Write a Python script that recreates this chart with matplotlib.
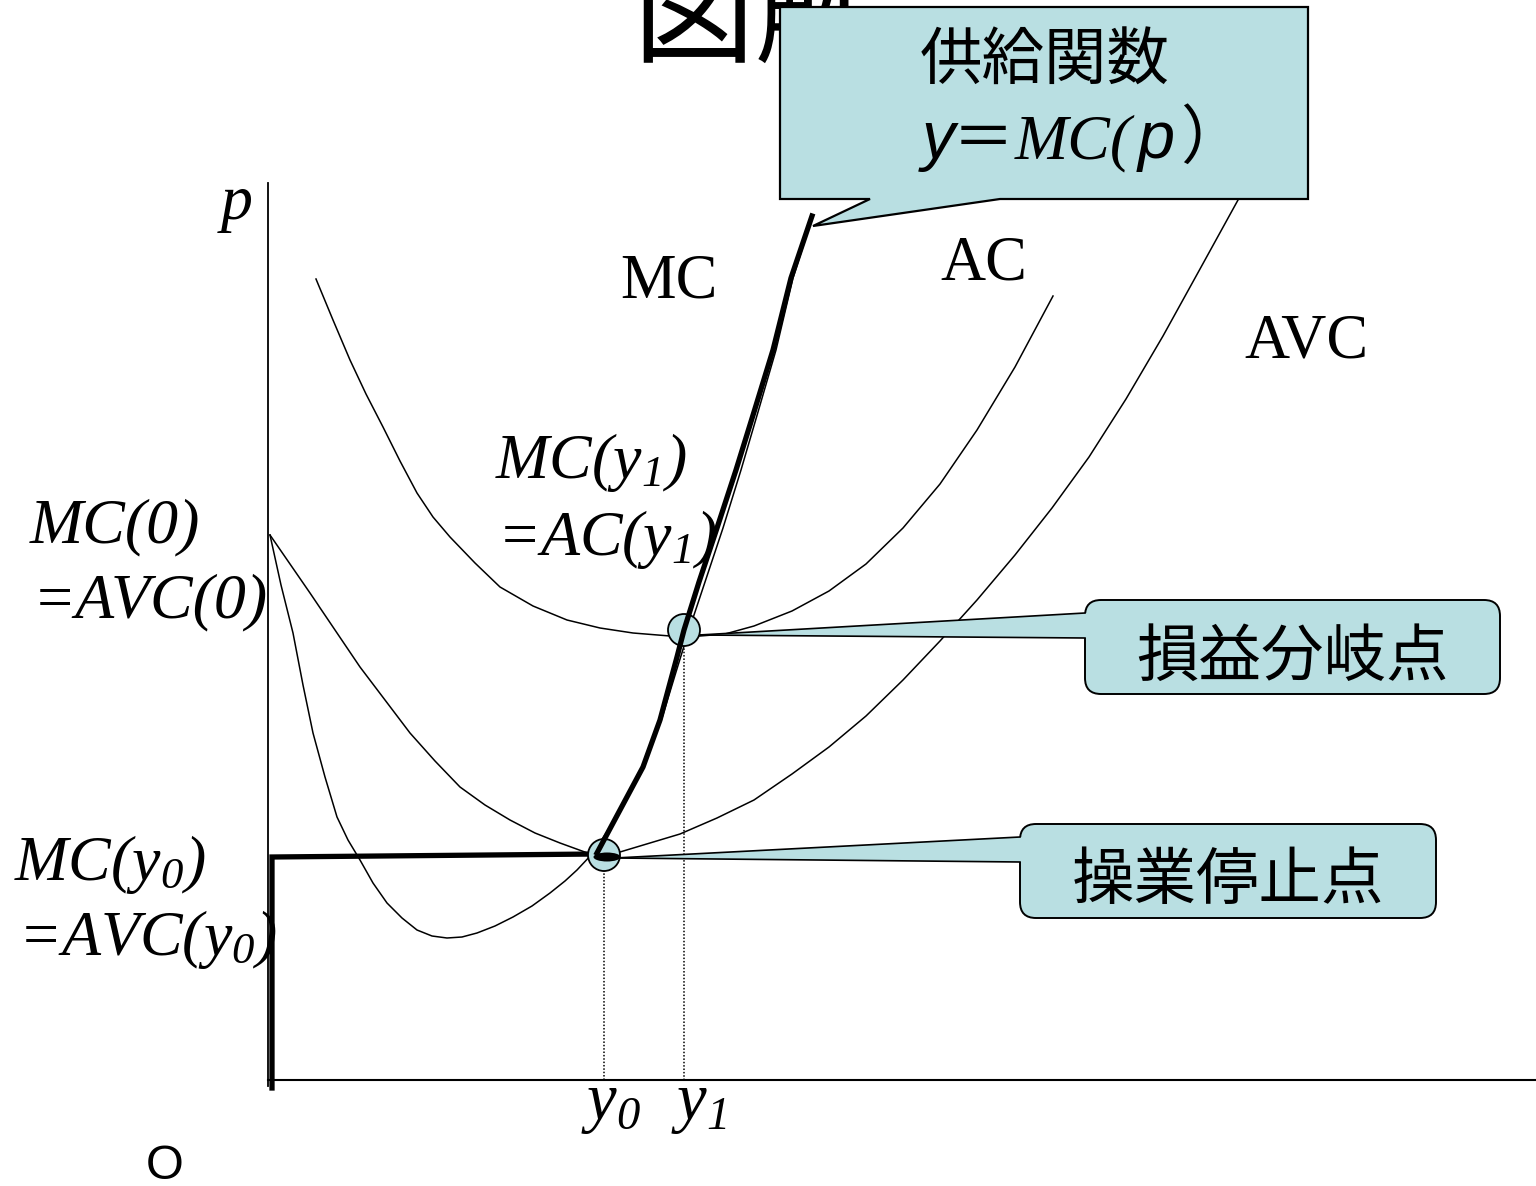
import matplotlib.pyplot as plt
from matplotlib.patches import Polygon, Circle, Ellipse, FancyBboxPatch

plt.rcParams['mathtext.fontset'] = 'custom'
plt.rcParams['mathtext.it'] = 'Liberation Serif:italic'
plt.rcParams['mathtext.rm'] = 'Liberation Serif:italic'

# 曲線の点 (画像のピクセル座標で読み取り, y は下向き)
mc_x = [270, 281, 293, 303, 313, 325, 337, 348, 360, 373, 387, 402, 417, 432, 447,
        462, 477, 495, 513, 532, 550, 565, 577, 593, 620, 643, 662, 676, 689, 705,
        723, 741, 758, 776, 793, 812]
mc_y = [535, 585, 633, 685, 733, 777, 817, 840, 860, 883, 903, 918, 930, 936, 938,
        937, 933, 926, 917, 906, 893, 881, 870, 853, 812, 768, 718, 672, 630, 582,
        528, 470, 412, 350, 278, 218]

ac_x = [316, 333, 350, 366, 383, 400, 417, 433, 450, 475, 500, 533, 567, 600, 633,
        670, 700, 725, 754, 792, 829, 866, 903, 940, 977, 1015, 1053]
ac_y = [279, 320, 360, 394, 427, 461, 493, 517, 537, 563, 587, 606, 620, 628, 633,
        636, 636, 634, 626, 611, 591, 564, 528, 484, 430, 367, 296]

avc_x = [270, 290, 310, 335, 360, 385, 410, 435, 460, 485, 510, 535, 560, 593, 620,
         650, 680, 717, 754, 792, 829, 866, 903, 940, 977, 1015, 1052, 1089, 1126,
         1163, 1200, 1238]
avc_y = [535, 564, 593, 630, 667, 700, 733, 761, 787, 805, 820, 833, 843, 855, 852,
         843, 834, 818, 800, 774, 747, 716, 680, 641, 600, 555, 508, 457, 399, 336,
         269, 200]

# 供給曲線 (太線)
shut_x = [272, 272, 597]
shut_y = [1088, 857, 854]
supply_x = [597, 620, 643, 660, 677, 684, 699, 717, 736, 754, 773, 791, 812]
supply_y = [853, 810, 767, 720, 657, 630, 582, 528, 470, 412, 350, 278, 216]

# 損益分岐点・操業停止点
y0, p0 = 604, 855
y1, p1 = 684, 630
axis_x, axis_y = 268, 1080

fill = '#b9dfe2'
serif = 'Liberation Serif'
jp = ['Noto Sans CJK JP', 'DejaVu Sans']

fig = plt.figure(figsize=(15.36, 11.86), dpi=100)
ax = fig.add_axes([0, 0, 1, 1])
ax.set_xlim(0, 1536)
ax.set_ylim(1186, 0)
ax.axis('off')

# タイトル (吹き出しの後ろに隠れている)
ax.text(632, 18, '図解', fontsize=88, family=jp, ha='left', va='center', zorder=1)

# 軸
ax.plot([axis_x, axis_x], [183, 1086], color='black', lw=1.3, zorder=2)
ax.plot([axis_x, 1536], [axis_y, axis_y], color='black', lw=1.5, zorder=2)

# 曲線
ax.plot(mc_x, mc_y, color='black', lw=1.1, zorder=3)
ax.plot(ac_x, ac_y, color='black', lw=1.1, zorder=3)
ax.plot(avc_x, avc_y, color='black', lw=1.1, zorder=3)

# 点線
ax.plot([y0, y0], [p0 + 15, axis_y], color='black', lw=1.1, ls=(0, (1, 1.2)), zorder=3)
ax.plot([y1, y1], [p1 + 15, axis_y], color='black', lw=1.1, ls=(0, (1, 1.2)), zorder=3)

# 操業停止部分の太線
ax.plot(shut_x, shut_y, color='black', lw=3.8, solid_joinstyle='miter', zorder=4)

# 吹き出し: 損益分岐点
ax.add_patch(FancyBboxPatch((1085, 600), 415, 94, boxstyle='round,pad=0,rounding_size=16',
                            fc=fill, ec='black', lw=1.4, zorder=6))
ax.add_patch(Polygon([(699, 635), (1087, 613), (1087, 638)], closed=True,
                     fc=fill, ec='none', zorder=6))
ax.plot([699, 1085], [635, 613], color='black', lw=1.2, zorder=6)
ax.plot([699, 1085], [635, 638], color='black', lw=1.2, zorder=6)
ax.text(1292, 658, '損益分岐点', fontsize=45, family=jp, ha='center', va='center', zorder=7)

# 吹き出し: 操業停止点
ax.add_patch(FancyBboxPatch((1020, 824), 416, 94, boxstyle='round,pad=0,rounding_size=16',
                            fc=fill, ec='black', lw=1.4, zorder=6))
ax.add_patch(Polygon([(615, 858), (1022, 837), (1022, 862)], closed=True,
                     fc=fill, ec='none', zorder=6))
ax.plot([615, 1020], [858, 837], color='black', lw=1.2, zorder=6)
ax.plot([615, 1020], [858, 862], color='black', lw=1.2, zorder=6)
ax.text(1228, 881, '操業停止点', fontsize=45, family=jp, ha='center', va='center', zorder=7)

# 点の丸
ax.add_patch(Circle((y1, p1), 16, fc=fill, ec='black', lw=1.3, zorder=7))
ax.add_patch(Circle((y0, p0), 16, fc=fill, ec='black', lw=1.3, zorder=7))
ax.add_patch(Ellipse((607, 857), 27, 9, fc='black', ec='none', zorder=8))

# MC 上の供給曲線 (太線)
ax.plot(supply_x, supply_y, color='black', lw=3.8, zorder=8)

# 吹き出し: 供給関数
ax.add_patch(Polygon([(780, 7), (1308, 7), (1308, 199), (1000, 199), (813, 226),
                      (870, 199), (780, 199)], closed=True, fc=fill, ec='black',
                     lw=1.6, joinstyle='miter', zorder=9))
ax.text(1045, 62, '供給関数', fontsize=45, family=jp, ha='center', va='center', zorder=10)
ax.text(922, 158, 'y', fontsize=48, family='Liberation Sans', style='italic',
        ha='left', va='baseline', zorder=10)
ax.text(953, 158, '＝', fontsize=44, family=jp, ha='left', va='baseline', zorder=10)
ax.text(1015, 158, 'MC(', fontsize=46, family=serif, style='italic',
        ha='left', va='baseline', zorder=10)
ax.text(1138, 158, 'p', fontsize=48, family='Liberation Sans', style='italic',
        ha='left', va='baseline', zorder=10)
ax.text(1180, 158, '）', fontsize=46, family=jp, ha='left', va='baseline', zorder=10)

# 曲線名
ax.text(620, 297, 'MC', fontsize=45, family=serif, ha='left', va='baseline')
ax.text(940, 280, 'AC', fontsize=45, family=serif, ha='left', va='baseline')
ax.text(1244, 358, 'AVC', fontsize=45, family=serif, ha='left', va='baseline')

# 軸ラベル
ax.text(221, 219, 'p', fontsize=46, family=serif, style='italic', ha='left', va='baseline')
ax.text(165, 1179, 'O', fontsize=35, family='Liberation Sans', ha='center', va='baseline')
ax.text(581, 1120, r'y$_{0}$', fontsize=48, family=serif, style='italic',
        ha='left', va='baseline')
ax.text(671, 1120, r'y$_{1}$', fontsize=48, family=serif, style='italic',
        ha='left', va='baseline')

# 説明ラベル
lab = dict(fontsize=46, family=serif, style='italic', ha='left', va='baseline')
ax.text(495, 478, r'MC(y$_{1}$)', **lab)
ax.text(497, 555, r'=AC(y$_{1}$)', **lab)
ax.text(30, 542, 'MC(0)', **lab)
ax.text(33, 617, '=AVC(0)', **lab)
ax.text(14, 880, r'MC(y$_{0}$)', **lab)
ax.text(18, 955, r'=AVC(y$_{0}$)', **lab)

fig.savefig('out.png', dpi=100)
